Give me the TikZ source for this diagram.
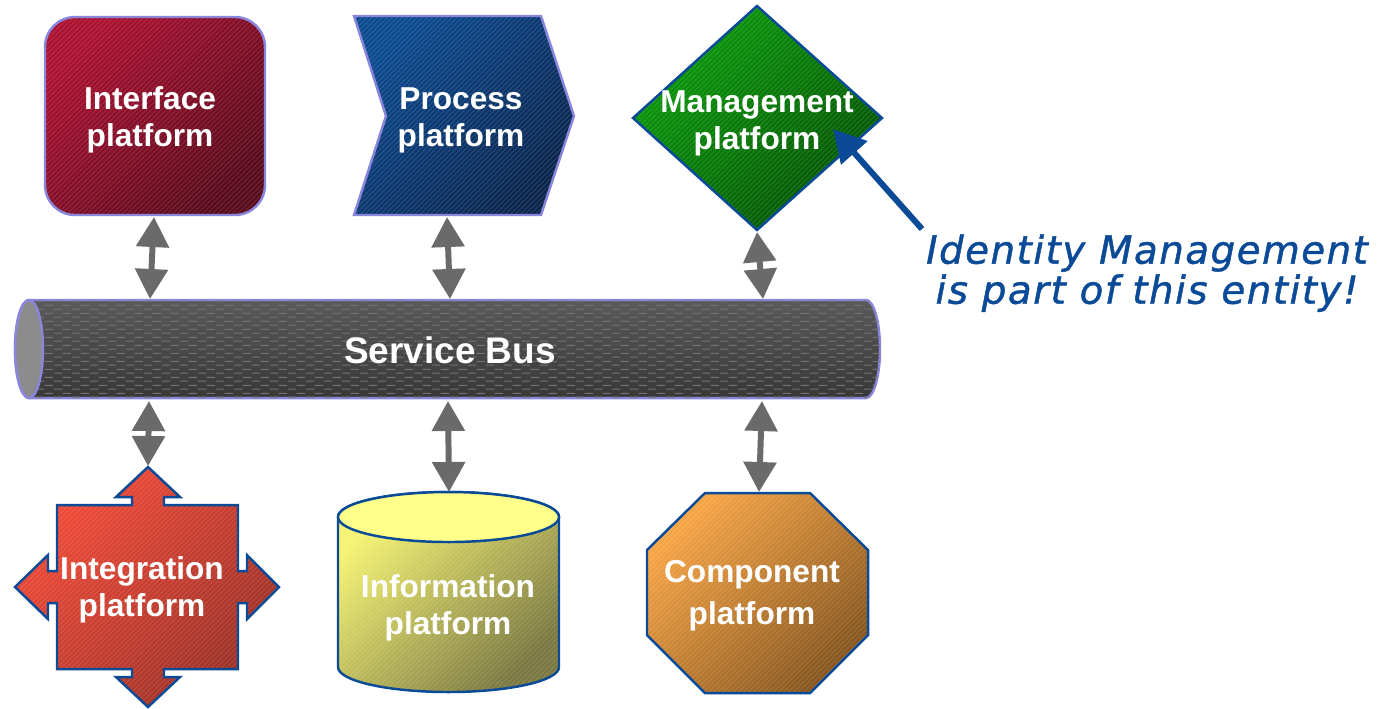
\documentclass[tikz,border=0pt]{standalone}
\usepackage{fontspec}
\setmainfont{Liberation Sans}
\newfontfamily\notefont[LetterSpace=4, FakeBold=1.2]{DejaVu Sans}
\usepackage{tikz}
\usetikzlibrary{arrows.meta}
\usetikzlibrary{patterns}
\usetikzlibrary{calc}

\definecolor{ifLight}{HTML}{AC1030}
\definecolor{ifDark}{HTML}{580A1C}
\definecolor{prLight}{HTML}{0C4A90}
\definecolor{prDark}{HTML}{0A244C}
\definecolor{mgLight}{HTML}{0A9C0A}
\definecolor{mgDark}{HTML}{045204}
\definecolor{itLight}{HTML}{F44A38}
\definecolor{itDark}{HTML}{9A3026}
\definecolor{inTop}{HTML}{FFFF8A}
\definecolor{inLight}{HTML}{F6F472}
\definecolor{inDark}{HTML}{7A7840}
\definecolor{cpLight}{HTML}{F8A444}
\definecolor{cpDark}{HTML}{86561E}
\definecolor{busLight}{HTML}{5A5A5A}
\definecolor{busDark}{HTML}{383838}
\definecolor{busEnd}{HTML}{8C8C8C}
\definecolor{busDash}{HTML}{737373}
\definecolor{edgeLav}{HTML}{8A86DC}
\definecolor{edgeBlue}{HTML}{0A4A96}
\definecolor{arrowGray}{HTML}{6A6A6A}
\definecolor{noteBlue}{HTML}{0A4A96}

% texture of the bus
\pgfdeclarepatternformonly{bus weave}{\pgfqpoint{0pt}{0pt}}{\pgfqpoint{5pt}{2.2pt}}{\pgfqpoint{5pt}{2.2pt}}{
  \pgfsetlinewidth{0.35pt}
  \pgfpathmoveto{\pgfqpoint{0pt}{0.55pt}}\pgfpathlineto{\pgfqpoint{2.4pt}{0.55pt}}
  \pgfpathmoveto{\pgfqpoint{2.5pt}{1.65pt}}\pgfpathlineto{\pgfqpoint{4.9pt}{1.65pt}}
  \pgfusepath{stroke}}

\begin{document}
\begin{tikzpicture}[x=0.01cm, y=-0.01cm]
  \tikzset{
    plat/.style n args={3}{top color=#1, bottom color=#2, shading angle=45,
        draw=#3, line width=0.7pt,
        path picture={
          \foreach \k in {-280,-275,...,280}
            \draw[white, opacity=0.12, line width=0.3pt]
              ($(path picture bounding box.center)+(\k-150,150)$) -- ++(300,-300);
        }},
    plabel/.style={text=white, align=center, font=\bfseries\fontsize{9}{10.5}\selectfont},
    busarrow/.style={{Triangle[width=0.32cm,length=0.3cm]}-{Triangle[width=0.32cm,length=0.3cm]},
        line width=1.7pt, arrowGray},
    notearrow/.style={-{Triangle[width=0.34cm,length=0.32cm]}, line width=1.7pt, noteBlue}
  }
  \useasboundingbox (0,0) rectangle (1386,708);

  \def\rx{14}   % bus end radius
  \def\ry{49}

  % Top row
  \path[plat={ifLight}{ifDark}{edgeLav}, rounded corners=0.3cm] (45,17) rectangle (265,215);
  \path[plat={prLight}{prDark}{edgeLav}] (354,16) -- (541,16) -- (574,116) -- (541,215)
      -- (354,215) -- (386,116) -- cycle;
  \path[plat={mgLight}{mgDark}{edgeBlue}] (757,6) -- (882,118) -- (757,230) -- (633,118) -- cycle;
  \node[plabel] (iface) at (150,120) {Interface\\platform};
  \node[plabel] (proc) at (461,120) {Process\\platform};
  \node[plabel] (mgmt) at (757,123) {Management\\platform};

  % Service bus
  \path[top color=busLight, bottom color=busDark, draw=edgeLav, line width=0.7pt,
      postaction={pattern=bus weave, pattern color=busDash}]
    (29,300) -- (866,300) arc[start angle=-90, end angle=90, x radius=\rx, y radius=\ry]
    -- (29,398) arc[start angle=90, end angle=270, x radius=\rx, y radius=\ry] -- cycle;
  \path[fill=busEnd, draw=edgeLav, line width=0.7pt] (29,349) ellipse[x radius=\rx, y radius=\ry];
  \node[text=white, font=\bfseries\fontsize{10.5}{12}\selectfont] (bus) at (450,350) {Service Bus};

  % Bottom row
  \path[plat={itLight}{itDark}{edgeBlue}] (57,505) -- (132,505) -- (132,497) -- (116,497)
      -- (148,467) -- (180,497) -- (164,497) -- (164,505) -- (238,505) -- (238,571)
      -- (247,571) -- (247,555) -- (279,587) -- (247,619) -- (247,603) -- (238,603)
      -- (238,669) -- (164,669) -- (164,677) -- (180,677) -- (148,707) -- (116,677)
      -- (132,677) -- (132,669) -- (57,669) -- (57,603) -- (48,603) -- (48,619)
      -- (15,587) -- (48,555) -- (48,571) -- (57,571) -- cycle;
  \path[plat={inLight}{inDark}{edgeBlue}] (338,517) -- (338,667)
      arc[start angle=180, end angle=0, x radius=110.5, y radius=25] -- (559,517)
      arc[start angle=0, end angle=-180, x radius=110.5, y radius=25] -- cycle;
  \path[fill=inTop, draw=edgeBlue, line width=0.7pt] (448.5,517) ellipse[x radius=110.5, y radius=25];
  \path[plat={cpLight}{cpDark}{edgeBlue}] (705,493) -- (810,493) -- (868,550) -- (868,635)
      -- (810,693) -- (705,693) -- (647,635) -- (647,550) -- cycle;
  \node[plabel] (integ) at (142,590) {Integration\\platform};
  \node[plabel] (info) at (448,608) {Information\\platform};
  \node[plabel, font=\bfseries\fontsize{9}{12}\selectfont] (comp) at (752,596) {Component\\platform};

  % Arrow ends
  \coordinate (ifS) at (154,217);   \coordinate (busN1) at (150,299);
  \coordinate (prS) at (447,217);   \coordinate (busN2) at (450,299);
  \coordinate (mgS) at (757,232);   \coordinate (busN3) at (763,299);
  \coordinate (busS1) at (149,401); \coordinate (itN) at (148,466);
  \coordinate (busS2) at (448,401); \coordinate (inN) at (449,492);
  \coordinate (busS3) at (762,401); \coordinate (cpN) at (759,492);

  \draw[busarrow] (ifS) -- (busN1);
  \draw[busarrow] (prS) -- (busN2);
  \draw[busarrow] (mgS) -- (busN3);
  \draw[busarrow] (busS1) -- (itN);
  \draw[busarrow] (busS2) -- (inN);
  \draw[busarrow] (busS3) -- (cpN);

  % Note
  \node[text=noteBlue, align=center, font=\notefont\itshape\fontsize{11}{11.4}\selectfont]
    (note) at (1147,273) {Identity Management\\is part of this entity!};
  \coordinate (noteTail) at (922,229);
  \coordinate (mgTip) at (833,129);
  \draw[notearrow] (noteTail) -- (mgTip);
\end{tikzpicture}
\end{document}
